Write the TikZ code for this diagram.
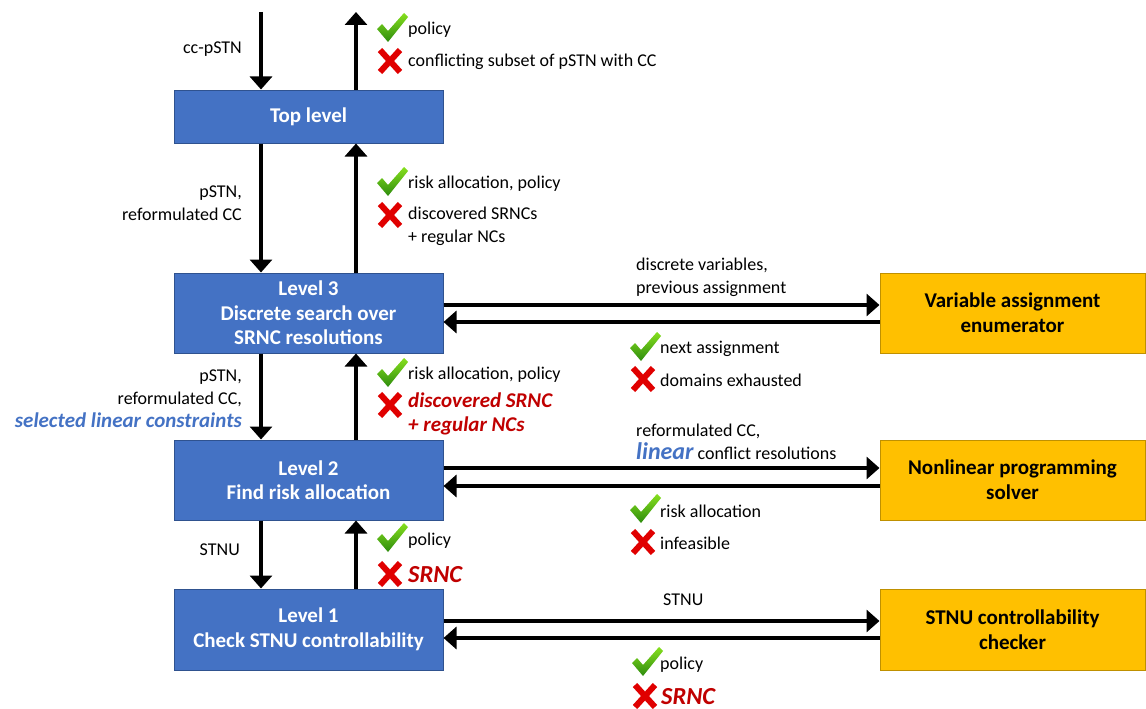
\documentclass[tikz,border=0pt]{standalone}
\usepackage{fontspec}
\setmainfont{Carlito}
\usetikzlibrary{arrows.meta}

\definecolor{boxblue}{HTML}{4472C4}
\definecolor{boxblueline}{HTML}{2F528F}
\definecolor{boxgold}{HTML}{FFC000}
\definecolor{boxgoldline}{HTML}{BF9000}
\definecolor{okgreen}{HTML}{2E8B0E}
\definecolor{okgreenlight}{HTML}{86E01E}
\definecolor{badred}{HTML}{E00000}
\definecolor{hlred}{HTML}{C00000}
\definecolor{hlblue}{HTML}{4472C4}

\begin{document}
\begin{tikzpicture}[x=1pt,y=-1pt,
  levelbox/.style={draw=boxblueline, line width=1pt, fill=boxblue, text=white,
    font=\fontsize{21}{24.5}\selectfont\bfseries, align=center,
    minimum width=269pt, minimum height=80pt, inner sep=0pt},
  toolbox/.style={draw=boxgoldline, line width=1pt, fill=boxgold, text=black,
    font=\fontsize{21}{25}\selectfont\bfseries, align=center,
    minimum width=265pt, minimum height=80pt, inner sep=0pt},
  flow/.style={line width=4pt, -{Triangle[width=22pt,length=13pt]}},
  lbl/.style={font=\fontsize{18}{23}\selectfont, inner sep=0pt, yshift=-2pt},
  hlr/.style={font=\fontsize{21}{24}\selectfont\bfseries\itshape, text=hlred, inner sep=0pt, yshift=-2pt},
  bigr/.style={font=\fontsize{24.5}{26}\selectfont\bfseries\itshape, text=hlred, inner sep=0pt, yshift=-1pt},
  okmark/.pic={\shade[top color=okgreenlight, bottom color=okgreen]
      (-15,1) -- (-10,-4) -- (-4,3) -- (12,-15) -- (16,-11) -- (-4,14) -- cycle;},
  badmark/.pic={\draw[badred, line width=6pt]
      (-10,-11) -- (10,11) (10,-11) -- (-10,11);}
]
\useasboundingbox (0,0) rectangle (1146,709);

% hierarchy of levels
\node[levelbox, minimum height=53pt] (top) at (308.5,116.5) {Top level};
\node[levelbox] (l3) at (308.5,313) {Level 3\\Discrete search over\\SRNC resolutions};
\node[levelbox] (l2) at (308.5,480) {Level 2\\Find risk allocation};
\node[levelbox, minimum height=81pt] (l1) at (308.5,629.5) {Level 1\\Check STNU controllability};

% external solvers
\node[toolbox] (enum) at (1012.5,313) {Variable assignment\\enumerator};
\node[toolbox] (nlp) at (1012.5,480) {Nonlinear programming\\solver};
\node[toolbox, minimum height=81pt] (stnu) at (1012.5,629.5) {STNU controllability\\checker};

% problem input and result output
\coordinate (inflow) at (261,12);
\coordinate (outflow) at (356,12);
\draw[flow] (inflow) -- (inflow |- top.north);
\draw[flow] (outflow |- top.north) -- (outflow);

% vertical links between levels
\draw[flow] ([xshift=-47.5pt]top.south) -- ([xshift=-47.5pt]l3.north);
\draw[flow] ([xshift=47.5pt]l3.north) -- ([xshift=47.5pt]top.south);
\draw[flow] ([xshift=-47.5pt]l3.south) -- ([xshift=-47.5pt]l2.north);
\draw[flow] ([xshift=47.5pt]l2.north) -- ([xshift=47.5pt]l3.south);
\draw[flow] ([xshift=-47.5pt]l2.south) -- ([xshift=-47.5pt]l1.north);
\draw[flow] ([xshift=47.5pt]l1.north) -- ([xshift=47.5pt]l2.south);

% horizontal links to the solvers
\draw[flow] ([yshift=8pt]l3.east) -- ([yshift=8pt]enum.west);
\draw[flow] ([yshift=-9pt]enum.west) -- ([yshift=-9pt]l3.east);
\draw[flow] ([yshift=12pt]l2.east) -- ([yshift=12pt]nlp.west);
\draw[flow] ([yshift=-6pt]nlp.west) -- ([yshift=-6pt]l2.east);
\draw[flow] ([yshift=8.5pt]l1.east) -- ([yshift=8.5pt]stnu.west);
\draw[flow] ([yshift=-8.5pt]stnu.west) -- ([yshift=-8.5pt]l1.east);

% downward labels
\node[lbl, anchor=east] (t0) at (242,47) {cc-pSTN};
\node[lbl, anchor=east, align=right] (t1) at (242,201) {pSTN,\\reformulated CC};
\node[lbl, anchor=east, align=right] (t2) at (242,397) {pSTN,\\reformulated CC,\\{\fontsize{21}{23}\selectfont\bfseries\itshape\color{hlblue}selected linear constraints}};
\node[lbl, anchor=east] (t3) at (240,548) {STNU};

% upward labels
\pic at (392,28) {okmark};
\node[lbl, anchor=west] (u0a) at (408,28) {policy};
\pic at (390,61) {badmark};
\node[lbl, anchor=west] (u0b) at (408,60) {conflicting subset of pSTN with CC};

\pic at (392,182) {okmark};
\node[lbl, anchor=west] (u1a) at (408,182) {risk allocation, policy};
\pic at (390,215) {badmark};
\node[lbl, anchor=west, align=left] (u1b) at (408,224) {discovered SRNCs\\+ regular NCs};

\pic at (392,373) {okmark};
\node[lbl, anchor=west] (u2a) at (408,373) {risk allocation, policy};
\pic at (390,405) {badmark};
\node[hlr, anchor=west, align=left] (u2b) at (408,412) {discovered SRNC\\+ regular NCs};

\pic at (392,538) {okmark};
\node[lbl, anchor=west] (u3a) at (408,539) {policy};
\pic at (390,574) {badmark};
\node[bigr, anchor=west] (u3b) at (408,574) {SRNC};

% solver requests
\node[lbl, anchor=west, align=left] (r1) at (636,275) {discrete variables,\\previous assignment};
\node[lbl, anchor=west, align=left] (r2) at (636,440) {reformulated CC,\\{\fontsize{24}{23}\selectfont\bfseries\itshape\color{hlblue}linear} conflict resolutions};
\node[lbl, anchor=west] (r3) at (663,598) {STNU};

% solver replies
\pic at (645,347) {okmark};
\node[lbl, anchor=west] (s1a) at (660,347) {next assignment};
\pic at (643,379) {badmark};
\node[lbl, anchor=west] (s1b) at (660,378) {domains exhausted};

\pic at (645,509) {okmark};
\node[lbl, anchor=west] (s2a) at (660,509) {risk allocation};
\pic at (643,542) {badmark};
\node[lbl, anchor=west] (s2b) at (660,541) {infeasible};

\pic at (647,662) {okmark};
\node[lbl, anchor=west] (s3a) at (660,663) {policy};
\pic at (645,696) {badmark};
\node[bigr, anchor=west] (s3b) at (661,696) {SRNC};
\end{tikzpicture}
\end{document}
